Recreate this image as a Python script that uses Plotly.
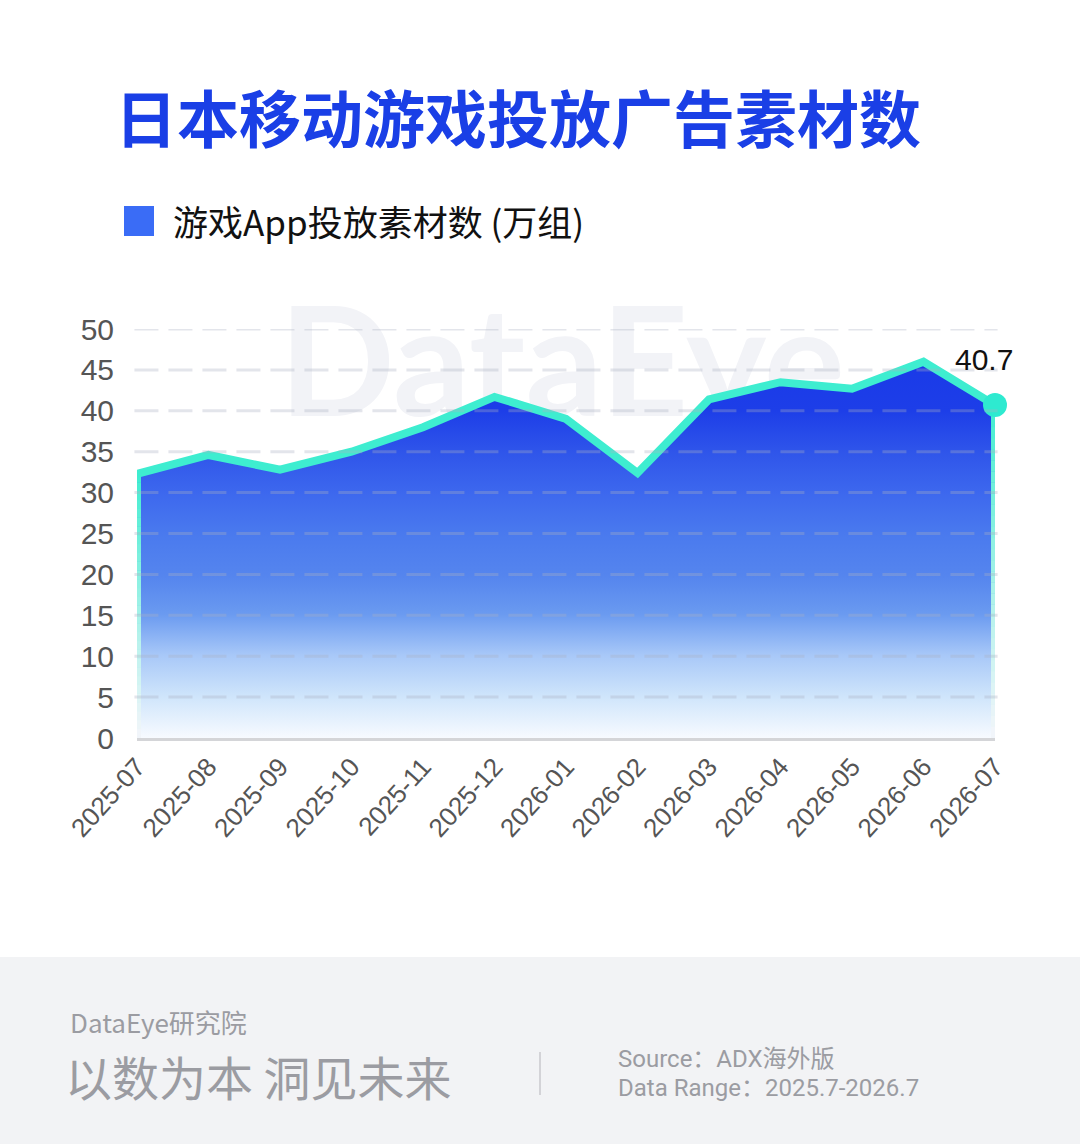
import plotly.graph_objects as go

months = ["2025-07", "2025-08", "2025-09", "2025-10", "2025-11", "2025-12", "2026-01",
          "2026-02", "2026-03", "2026-04", "2026-05", "2026-06", "2026-07"]
values = [32.3, 34.6, 32.8, 35.0, 38.0, 41.7, 39.0, 32.4, 41.4, 43.5, 42.7, 46.0, 40.7]
y_ticks = [0, 5, 10, 15, 20, 25, 30, 35, 40, 45, 50]

title_text = "日本移动游戏投放广告素材数"
series_name = "游戏App投放素材数 (万组)"

LINE = "#3eedd0"
idx = list(range(len(months)))

W, H = 1080, 1144
L, R, T, B = 137, 1080 - 995, 329, H - 738


def px_x(p):
    return (p - L) / (W - L - R)


def px_y(p):
    return (H - B - p) / (H - T - B)


fig = go.Figure()

# gradient area
fig.add_trace(go.Scatter(
    x=idx, y=values, mode="none", fill="tozeroy",
    fillgradient=dict(type="vertical",
                      colorscale=[[0, "#f7faff"], [0.11, "#cfe5fb"], [0.22, "#a8c8f8"],
                                  [0.33, "#6a9af0"], [0.43, "#5585ee"], [0.54, "#4a7aee"],
                                  [0.65, "#3d68ee"], [0.76, "#2f55ea"], [0.87, "#1d3ee8"],
                                  [1, "#1a3ae8"]]),
    showlegend=False, hoverinfo="skip"))


def mix(c1, c2, t):
    a = [int(c1[i:i + 2], 16) for i in (1, 3, 5)]
    b = [int(c2[i:i + 2], 16) for i in (1, 3, 5)]
    return "rgb(%d,%d,%d)" % tuple(round(a[k] + (b[k] - a[k]) * t) for k in range(3))


# fading vertical edges
N = 30
for xi, v in ((idx[0], values[0]), (idx[-1], values[-1])):
    for i in range(N):
        y0 = v * i / N
        y1 = v * (i + 1) / N
        t = (i + 0.5) / N
        col = mix("#f3f5fa", LINE, min(1.0, t ** 1.1))
        fig.add_trace(go.Scatter(x=[xi, xi], y=[y0, y1 + 0.05], mode="lines",
                                 line=dict(color=col, width=8), cliponaxis=False,
                                 showlegend=False, hoverinfo="skip"))

# top line
fig.add_trace(go.Scatter(x=idx, y=values, mode="lines",
                         line=dict(color=LINE, width=8, shape="linear"),
                         cliponaxis=False, showlegend=False, hoverinfo="skip"))
# last point marker
fig.add_trace(go.Scatter(x=[idx[-1]], y=[values[-1]], mode="markers",
                         marker=dict(color="#2eead0", size=24), cliponaxis=False,
                         showlegend=False, hoverinfo="skip"))

fig.add_annotation(x=idx[-1], y=values[-1], text=f"{values[-1]}", showarrow=False,
                   xshift=-11, yshift=46,
                   font=dict(size=30, color="#111111", family="Liberation Sans, Arial"))

# gridlines drawn above the fill, semi-transparent
for v in y_ticks[1:]:
    fig.add_shape(type="line", xref="paper", yref="y", x0=-0.003, x1=1.003, y0=v, y1=v,
                  line=dict(color="rgba(170,176,195,0.33)", width=3, dash="24px,10px"),
                  layer="above")

# watermark (below traces)
fig.add_shape(type="rect", xref="paper", yref="paper",
              x0=px_x(262), x1=px_x(862), y0=px_y(410), y1=px_y(300),
              line=dict(width=0), fillcolor="rgba(0,0,0,0)", layer="below",
              label=dict(text="DataEye", font=dict(size=152, color="#f2f3f7",
                                                   family="Lato", weight=700),
                         textposition="middle center"))

# footer band
fig.add_shape(type="rect", xref="paper", yref="paper",
              x0=px_x(0), x1=px_x(W), y0=px_y(H), y1=px_y(957),
              line=dict(width=0), fillcolor="#f2f3f5", layer="below")

# footer divider
fig.add_shape(type="line", xref="paper", yref="paper", x0=px_x(540), x1=px_x(540),
              y0=px_y(1052), y1=px_y(1095), line=dict(color="#c8c9cc", width=1.5))

foot_font = "Noto Sans CJK SC, Noto Sans"
src_font = "Roboto, Noto Sans CJK SC"
fig.add_annotation(xref="paper", yref="paper", x=px_x(68), y=px_y(1021), text="DataEye研究院",
                   showarrow=False, xanchor="left", yanchor="middle",
                   font=dict(size=26, color="#9b9ca2", family=foot_font))
fig.add_annotation(xref="paper", yref="paper", x=px_x(63), y=px_y(1075), text="以数为本 洞见未来",
                   showarrow=False, xanchor="left", yanchor="middle",
                   font=dict(size=47, color="#9b9ca2", family=foot_font))
fig.add_annotation(xref="paper", yref="paper", x=px_x(616), y=px_y(1059),
                   text="Source：ADX海外版",
                   showarrow=False, xanchor="left", yanchor="middle",
                   font=dict(size=24, color="#9b9ca2", family=src_font))
fig.add_annotation(xref="paper", yref="paper", x=px_x(616), y=px_y(1088),
                   text="Data Range：2025.7-2026.7",
                   showarrow=False, xanchor="left", yanchor="middle",
                   font=dict(size=24, color="#9b9ca2", family=src_font))

# title
fig.add_annotation(xref="paper", yref="paper", x=px_x(518), y=px_y(116), text=f"<b>{title_text}</b>",
                   showarrow=False, xanchor="center", yanchor="middle",
                   font=dict(size=62, color="#1a3fe6", family="Noto Sans CJK SC"))
# legend
fig.add_shape(type="rect", xref="paper", yref="paper", x0=px_x(124), x1=px_x(154),
              y0=px_y(236), y1=px_y(206), line=dict(width=0), fillcolor="#3a6cf6")
fig.add_annotation(xref="paper", yref="paper", x=px_x(171), y=px_y(221), text=series_name,
                   showarrow=False, xanchor="left", yanchor="middle",
                   font=dict(size=35, color="#111111", family="Noto Sans CJK SC"))

fig.update_layout(
    width=W, height=H, paper_bgcolor="white", plot_bgcolor="white",
    margin=dict(l=L, r=R, t=T, b=B, pad=0),
    showlegend=False,
    xaxis=dict(range=[0, 12], tickmode="array", tickvals=idx, ticktext=months,
               tickangle=-48, tickfont=dict(size=26, color="#555555", family="Liberation Sans, Arial"),
               showgrid=False, zeroline=False, showline=True, linecolor="#d4d5d8", linewidth=3,
               ticks="", fixedrange=True),
    yaxis=dict(range=[0, 50], tickmode="array", tickvals=y_ticks,
               tickfont=dict(size=30, color="#555555", family="Liberation Sans, Arial"),
               showgrid=False, zeroline=False, showline=False, ticks="",
               ticklabelstandoff=22, fixedrange=True),
)

fig.write_html("out.html", config={"displayModeBar": False},
               post_script="document.body.style.margin='0';document.body.style.padding='0';")
